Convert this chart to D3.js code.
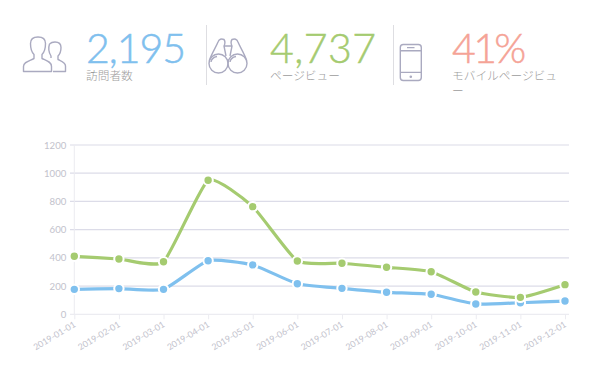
<!DOCTYPE html>
<html>
<head>
<meta charset="utf-8">
<script src="https://cdn.jsdelivr.net/npm/d3@7"></script>
<style>
html, body {margin: 0; padding: 0; background: #fff;}
svg {display: block;}
text {font-family: Lato, "Noto Sans CJK JP", sans-serif;}
</style>
</head>
<body>
<div id="chart"></div>
<script>
const months = ["2019-01-01", "2019-02-01", "2019-03-01", "2019-04-01", "2019-05-01", "2019-06-01",
    "2019-07-01", "2019-08-01", "2019-09-01", "2019-10-01", "2019-11-01", "2019-12-01"];
const visitors = [177, 182, 177, 380, 350, 217, 184, 156, 142, 73, 82, 94];
const pageviews = [411, 392, 373, 950, 763, 378, 362, 333, 302, 158, 120, 210];
const yTicks = [0, 200, 400, 600, 800, 1000, 1200];

const statValues = ["2,195", "4,737", "41%"];
const statLabels = [["訪問者数"], ["ページビュー"], ["モバイルページビュ", "ー"]];
const statColors = ["#7fc0ee", "#a5cb70", "#f5a396"];
const statX = [86, 270, 452];
const statSpacing = [-1, 0.5, -2.6];

const iconColor = "#aaaac0";

const svg = d3.select("#chart")
    .append("svg")
    .attr("width", 600)
    .attr("height", 375);

// header numbers and labels
statValues.forEach(function (v, i) {
    svg.append("text")
        .attr("x", statX[i])
        .attr("y", 62.7)
        .attr("font-size", "41px")
        .attr("font-weight", 300)
        .attr("letter-spacing", statSpacing[i] + "px")
        .attr("fill", statColors[i])
        .attr("stroke", statColors[i])
        .attr("stroke-width", 0.5)
        .text(v);
    statLabels[i].forEach(function (line, j) {
        svg.append("text")
            .attr("x", statX[i])
            .attr("y", 80 + j * 15)
            .attr("font-family", "'Noto Sans CJK JP'")
            .attr("font-size", "11.7px")
            .attr("font-weight", 300)
            .attr("fill", "#9c9c9c")
            .text(line);
    });
});

// dividers
[206.5, 393.5].forEach(function (x) {
    svg.append("line")
        .attr("x1", x).attr("x2", x)
        .attr("y1", 25).attr("y2", 85)
        .attr("stroke", "#dedee2");
});

// icons
const icons = svg.append("g")
    .attr("fill", "none")
    .attr("stroke", iconColor)
    .attr("stroke-width", 1.4)
    .attr("stroke-linejoin", "round");

icons.append("path").attr("d", "M23.5 71.5V66.5C23.5 62 29 61 34 58.5V54.5C31.5 52 30.5 47.5 30.5 43.5C30.5 39 34 37 38 37C42 37 45.5 39 45.5 43.5C45.5 47.5 44.5 52 42 54.5V58.5C46 60.5 51.5 61.5 51.5 66.5V71.5Z");
icons.append("path").attr("d", "M49.5 44C51 42.5 53 42 55 42C58.5 42 61 44 61 47.5C61 51 60 54 58 56V59.5C61 61 65.5 62 65.5 66V71.5H53");
icons.append("path").attr("d", "M49.5 44C48.5 47 48.5 52 51 56V58");

icons.append("circle").attr("cx", 218.5).attr("cy", 63.5).attr("r", 9.5);
icons.append("circle").attr("cx", 237.5).attr("cy", 63.5).attr("r", 9.5);
icons.append("path").attr("d", "M211 62C211.5 59 214 57 217 56.5");
icons.append("path").attr("d", "M230 62C230.5 59 233 57 236 56.5");
icons.append("path").attr("d", "M209.5 60C212 53 216 47 218 42C219 39 221.500 38.500 224 39.500C225 41 225 44 224 46L226 56M246.500 60C244 53 240 47 238 42C237 39 234.500 38.500 232 39.500C231 41 231 44 232 46L230 56M224 46H232");

icons.append("rect").attr("x", 400.300).attr("y", 44.500).attr("width", 21).attr("height", 36).attr("rx", 3);
icons.append("path").attr("d", "M400.300 50.800H421.300M400.300 72.400H421.300M407 47.600H414.500");
icons.append("circle").attr("cx", 410.800).attr("cy", 76.700).attr("r", 0.6);

// chart
const xScale = d3.scalePoint()
    .domain(months)
    .range([74.3, 565]);

const yScale = d3.scaleLinear()
    .domain([0, 1200])
    .range([314.3, 145]);

svg.append("g")
    .selectAll("line")
    .data(yTicks)
    .enter()
    .append("line")
    .attr("x1", 70)
    .attr("x2", 569)
    .attr("y1", d => yScale(d))
    .attr("y2", d => yScale(d))
    .attr("stroke", d => d === 0 ? "#ececf1" : "#dcdce8")
    .attr("stroke-width", 1.2);

svg.append("line")
    .attr("x1", 74.3).attr("x2", 74.3)
    .attr("y1", 145).attr("y2", 314.3)
    .attr("stroke", "#ececf1");

const yAxis = d3.axisLeft(yScale)
    .tickValues(yTicks)
    .tickFormat(d => d)
    .tickSize(0)
    .tickPadding(8);

const gy = svg.append("g")
    .attr("transform", "translate(74.3,0)")
    .call(yAxis);
gy.select(".domain").remove();
gy.selectAll("text")
    .attr("font-family", "Lato")
    .attr("font-size", "9.6px")
    .attr("fill", "#c2c2cc");

const xAxis = d3.axisBottom(xScale)
    .tickSize(5);

const gx = svg.append("g")
    .attr("transform", "translate(0,314.3)")
    .call(xAxis);
gx.select(".domain").remove();
gx.selectAll("line").attr("stroke", "#ececf1");
gx.selectAll("text")
    .attr("font-family", "Lato")
    .attr("font-size", "8.8px")
    .attr("fill", "#c2c2cc")
    .attr("text-anchor", "end")
    .attr("x", 0)
    .attr("y", 0)
    .attr("dy", "0.32em")
    .attr("transform", "translate(0,9.5) rotate(-31)");

const line = d3.line()
    .x((d, i) => xScale(months[i]))
    .y(d => yScale(d))
    .curve(d3.curveCardinal.tension(0.5));

function drawSeries(values, color) {
    svg.append("path")
        .datum(values)
        .attr("fill", "none")
        .attr("stroke", color)
        .attr("stroke-width", 3.2)
        .attr("d", line);
    svg.append("g")
        .selectAll("circle")
        .data(values)
        .enter()
        .append("circle")
        .attr("cx", (d, i) => xScale(months[i]))
        .attr("cy", d => yScale(d))
        .attr("r", 4.7)
        .attr("fill", color)
        .attr("stroke", "#fff")
        .attr("stroke-width", 2);
}

drawSeries(visitors, "#7fc0ee");
drawSeries(pageviews, "#a5cb70");
</script>
</body>
</html>
